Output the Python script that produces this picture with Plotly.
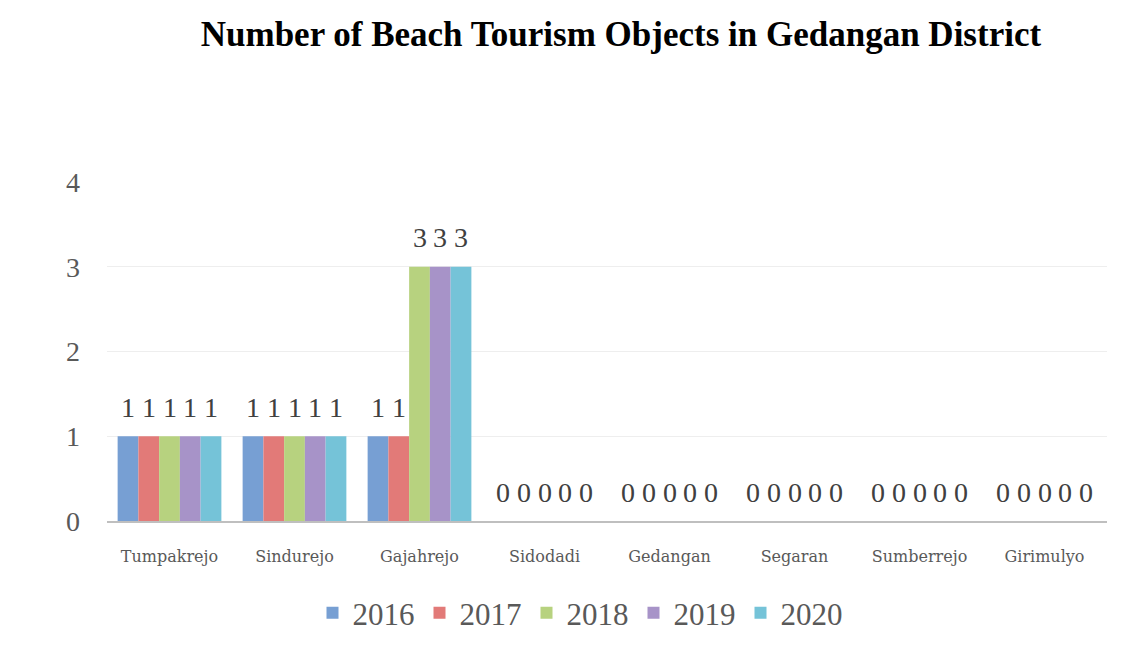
import plotly.graph_objects as go

categories = ["Tumpakrejo", "Sindurejo", "Gajahrejo", "Sidodadi", "Gedangan", "Segaran", "Sumberrejo", "Girimulyo"]
years = ["2016", "2017", "2018", "2019", "2020"]
v2016 = [1, 1, 1, 0, 0, 0, 0, 0]
v2017 = [1, 1, 1, 0, 0, 0, 0, 0]
v2018 = [1, 1, 3, 0, 0, 0, 0, 0]
v2019 = [1, 1, 3, 0, 0, 0, 0, 0]
v2020 = [1, 1, 3, 0, 0, 0, 0, 0]
series = [v2016, v2017, v2018, v2019, v2020]
colors = ["#779fd3", "#e27a78", "#b7d27f", "#a793c8", "#75c3d8"]

FONT = "Liberation Serif"
bargap = 0.17

fig = go.Figure()
for name, vals, col in zip(years, series, colors):
    fig.add_trace(go.Bar(x=categories, y=vals, name=name, marker=dict(color=col, line=dict(width=0))))

# data labels
n = len(series)
w = (1 - bargap) / n
annotations = []
for i, vals in enumerate(series):
    for j, v in enumerate(vals):
        annotations.append(dict(
            x=j + (i - (n - 1) / 2) * w, y=v, xref="x", yref="y",
            text=str(v), showarrow=False, yanchor="middle", yshift=29,
            font=dict(family=FONT, size=28, color="#404040"),
        ))

fig.update_layout(
    barmode="group", bargap=bargap, bargroupgap=0,
    width=1131, height=652,
    margin=dict(l=107, r=24, t=182, b=131),
    paper_bgcolor="white", plot_bgcolor="white",
    title=dict(text="<b>Number of Beach Tourism Objects in Gedangan District</b>",
               x=0.549, xanchor="center", y=0.948, yanchor="middle",
               font=dict(family=FONT, size=35, color="black")),
    font=dict(family=FONT, color="#595959"),
    annotations=annotations,
    legend=dict(orientation="h", x=0.473, xanchor="center", y=-0.272, yanchor="middle",
                font=dict(family=FONT, size=31, color="#595959"), itemwidth=30,
                traceorder="normal"),
    showlegend=True,
)
fig.update_yaxes(range=[0, 4], dtick=1, showgrid=True, gridcolor="#eeeeee", gridwidth=1,
                 zeroline=False, showline=False,
                 tickfont=dict(family=FONT, size=28, color="#595959"), ticklabelstandoff=26)
fig.update_xaxes(showline=True, linecolor="#bfbfbf", linewidth=2, showgrid=False,
                 tickfont=dict(family="DejaVu Serif", size=16, color="#595959"), ticklabelstandoff=20)

fig.write_html("out.html")
